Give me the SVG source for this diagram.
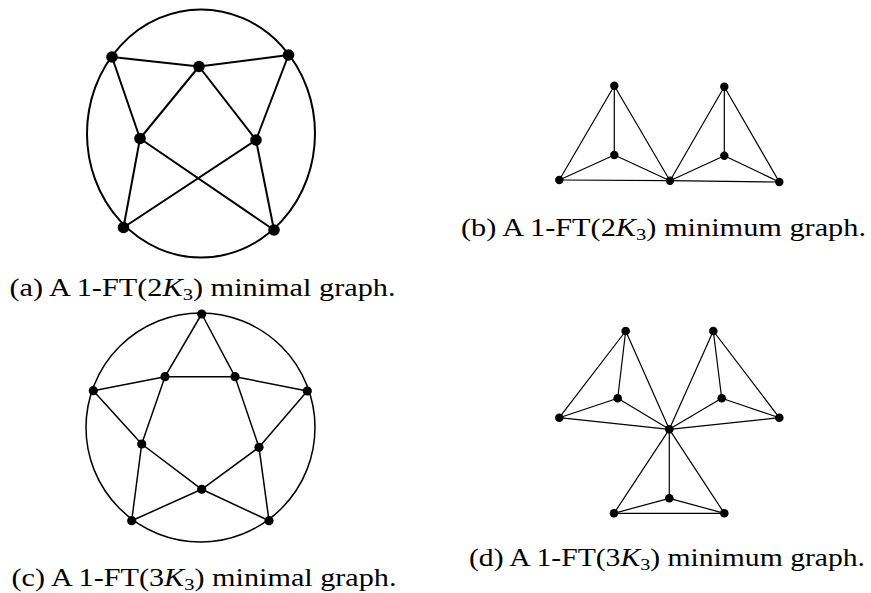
<svg xmlns="http://www.w3.org/2000/svg" width="871" height="593" viewBox="0 0 871 593">
<style>
.e{stroke:#000;fill:none;stroke-linecap:round}
.ea{stroke-width:2}
.ec{stroke-width:1.5}
.eb{stroke-width:1.2}
.n{fill:#000}
.cap{font-family:"Liberation Serif","DejaVu Serif",serif;font-size:25px;fill:#000}
.k{font-style:italic}
.s{font-size:17px}
</style>
<rect width="871" height="593" fill="#fff"/>

<!-- Graph (a) -->
<g id="graph-a">
<g id="a-edges" class="e ea">
<ellipse cx="201" cy="133.5" rx="114" ry="124"/>
<line x1="112" y1="57" x2="199" y2="66.5"/>
<line x1="199" y1="66.5" x2="288.5" y2="55"/>
<line x1="112" y1="57" x2="140" y2="138.5"/>
<line x1="199" y1="66.5" x2="140" y2="138.5"/>
<line x1="199" y1="66.5" x2="256" y2="140"/>
<line x1="288.5" y1="55" x2="256" y2="140"/>
<line x1="140" y1="138.5" x2="123.5" y2="227.5"/>
<line x1="140" y1="138.5" x2="274" y2="230"/>
<line x1="256" y1="140" x2="123.5" y2="227.5"/>
<line x1="256" y1="140" x2="274" y2="230"/>
</g>
<g id="a-n1"><circle class="n" cx="112" cy="57" r="5.8"/></g>
<g id="a-n2"><circle class="n" cx="199" cy="66.5" r="5.8"/></g>
<g id="a-n3"><circle class="n" cx="288.5" cy="55" r="5.8"/></g>
<g id="a-n4"><circle class="n" cx="140" cy="138.5" r="5.8"/></g>
<g id="a-n5"><circle class="n" cx="256" cy="140" r="5.8"/></g>
<g id="a-n6"><circle class="n" cx="123.5" cy="227.5" r="5.8"/></g>
<g id="a-n7"><circle class="n" cx="274" cy="230" r="5.8"/></g>
</g>

<!-- Graph (b) -->
<g id="graph-b">
<g id="b-edges" class="e eb">
<line x1="614.3" y1="85.7" x2="559.3" y2="180"/>
<line x1="614.3" y1="85.7" x2="614.3" y2="155"/>
<line x1="614.3" y1="85.7" x2="670" y2="180.7"/>
<line x1="614.3" y1="155" x2="559.3" y2="180"/>
<line x1="614.3" y1="155" x2="670" y2="180.7"/>
<line x1="559.3" y1="180" x2="670" y2="180.7"/>
<line x1="724.3" y1="86.7" x2="670" y2="180.7"/>
<line x1="724.3" y1="86.7" x2="724.3" y2="155.7"/>
<line x1="724.3" y1="86.7" x2="779.3" y2="182"/>
<line x1="724.3" y1="155.7" x2="670" y2="180.7"/>
<line x1="724.3" y1="155.7" x2="779.3" y2="182"/>
<line x1="670" y1="180.7" x2="779.3" y2="182"/>
</g>
<g id="b-n1"><circle class="n" cx="614.3" cy="85.7" r="4.2"/></g>
<g id="b-n2"><circle class="n" cx="614.3" cy="155" r="4.2"/></g>
<g id="b-n3"><circle class="n" cx="559.3" cy="180" r="4.2"/></g>
<g id="b-n4"><circle class="n" cx="670" cy="180.7" r="4.2"/></g>
<g id="b-n5"><circle class="n" cx="724.3" cy="86.7" r="4.2"/></g>
<g id="b-n6"><circle class="n" cx="724.3" cy="155.7" r="4.2"/></g>
<g id="b-n7"><circle class="n" cx="779.3" cy="182" r="4.2"/></g>
</g>

<!-- Graph (c) -->
<g id="graph-c">
<g id="c-edges" class="e ec">
<circle cx="200.5" cy="427.5" r="114.5"/>
<line x1="201.7" y1="314" x2="165" y2="376.7"/>
<line x1="201.7" y1="314" x2="235" y2="376.7"/>
<line x1="165" y1="376.7" x2="235" y2="376.7"/>
<line x1="93.3" y1="390.7" x2="165" y2="376.7"/>
<line x1="235" y1="376.7" x2="307.3" y2="391"/>
<line x1="165" y1="376.7" x2="141.7" y2="444"/>
<line x1="235" y1="376.7" x2="259" y2="447.3"/>
<line x1="93.3" y1="390.7" x2="141.7" y2="444"/>
<line x1="307.3" y1="391" x2="259" y2="447.3"/>
<line x1="141.7" y1="444" x2="201.7" y2="489.3"/>
<line x1="259" y1="447.3" x2="201.7" y2="489.3"/>
<line x1="141.7" y1="444" x2="131.7" y2="520.7"/>
<line x1="259" y1="447.3" x2="269" y2="520.7"/>
<line x1="201.7" y1="489.3" x2="131.7" y2="520.7"/>
<line x1="201.7" y1="489.3" x2="269" y2="520.7"/>
</g>
<g id="c-n1"><circle class="n" cx="201.7" cy="314" r="4.6"/></g>
<g id="c-n2"><circle class="n" cx="165" cy="376.7" r="4.6"/></g>
<g id="c-n3"><circle class="n" cx="235" cy="376.7" r="4.6"/></g>
<g id="c-n4"><circle class="n" cx="93.3" cy="390.7" r="4.6"/></g>
<g id="c-n5"><circle class="n" cx="307.3" cy="391" r="4.6"/></g>
<g id="c-n6"><circle class="n" cx="141.7" cy="444" r="4.6"/></g>
<g id="c-n7"><circle class="n" cx="259" cy="447.3" r="4.6"/></g>
<g id="c-n8"><circle class="n" cx="201.7" cy="489.3" r="4.6"/></g>
<g id="c-n9"><circle class="n" cx="131.7" cy="520.7" r="4.6"/></g>
<g id="c-n10"><circle class="n" cx="269" cy="520.7" r="4.6"/></g>
</g>

<!-- Graph (d) -->
<g id="graph-d">
<g id="d-edges" class="e eb">
<line x1="625.7" y1="331" x2="559.3" y2="417.7"/>
<line x1="625.7" y1="331" x2="617.7" y2="398.3"/>
<line x1="625.7" y1="331" x2="669.3" y2="429.3"/>
<line x1="617.7" y1="398.3" x2="559.3" y2="417.7"/>
<line x1="617.7" y1="398.3" x2="669.3" y2="429.3"/>
<line x1="559.3" y1="417.7" x2="669.3" y2="429.3"/>
<line x1="713.3" y1="331" x2="779.3" y2="417.7"/>
<line x1="713.3" y1="331" x2="721.7" y2="398.3"/>
<line x1="713.3" y1="331" x2="669.3" y2="429.3"/>
<line x1="721.7" y1="398.3" x2="779.3" y2="417.7"/>
<line x1="721.7" y1="398.3" x2="669.3" y2="429.3"/>
<line x1="779.3" y1="417.7" x2="669.3" y2="429.3"/>
<line x1="669.3" y1="429.3" x2="669.3" y2="498.3"/>
<line x1="669.3" y1="429.3" x2="614" y2="513.3"/>
<line x1="669.3" y1="429.3" x2="724.3" y2="513.3"/>
<line x1="669.3" y1="498.3" x2="614" y2="513.3"/>
<line x1="669.3" y1="498.3" x2="724.3" y2="513.3"/>
<line x1="614" y1="513.3" x2="724.3" y2="513.3"/>
</g>
<g id="d-n1"><circle class="n" cx="625.7" cy="331" r="4.3"/></g>
<g id="d-n2"><circle class="n" cx="617.7" cy="398.3" r="4.3"/></g>
<g id="d-n3"><circle class="n" cx="559.3" cy="417.7" r="4.3"/></g>
<g id="d-n4"><circle class="n" cx="669.3" cy="429.3" r="4.3"/></g>
<g id="d-n5"><circle class="n" cx="713.3" cy="331" r="4.3"/></g>
<g id="d-n6"><circle class="n" cx="721.7" cy="398.3" r="4.3"/></g>
<g id="d-n7"><circle class="n" cx="779.3" cy="417.7" r="4.3"/></g>
<g id="d-n8"><circle class="n" cx="669.3" cy="498.3" r="4.3"/></g>
<g id="d-n9"><circle class="n" cx="614" cy="513.3" r="4.3"/></g>
<g id="d-n10"><circle class="n" cx="724.3" cy="513.3" r="4.3"/></g>
</g>

<!-- Captions -->
<g id="captions">
<text class="cap" x="9.5" y="296" textLength="386" lengthAdjust="spacingAndGlyphs">(a) A 1-FT(2<tspan class="k">K</tspan><tspan class="s" dy="4">3</tspan><tspan dy="-4">) minimal graph.</tspan></text>
<text class="cap" x="461" y="236" textLength="405" lengthAdjust="spacingAndGlyphs">(b) A 1-FT(2<tspan class="k">K</tspan><tspan class="s" dy="4">3</tspan><tspan dy="-4">) minimum graph.</tspan></text>
<text class="cap" x="11.5" y="586" textLength="385" lengthAdjust="spacingAndGlyphs">(c) A 1-FT(3<tspan class="k">K</tspan><tspan class="s" dy="4">3</tspan><tspan dy="-4">) minimal graph.</tspan></text>
<text class="cap" x="469" y="566" textLength="396" lengthAdjust="spacingAndGlyphs">(d) A 1-FT(3<tspan class="k">K</tspan><tspan class="s" dy="4">3</tspan><tspan dy="-4">) minimum graph.</tspan></text>
</g>
</svg>
